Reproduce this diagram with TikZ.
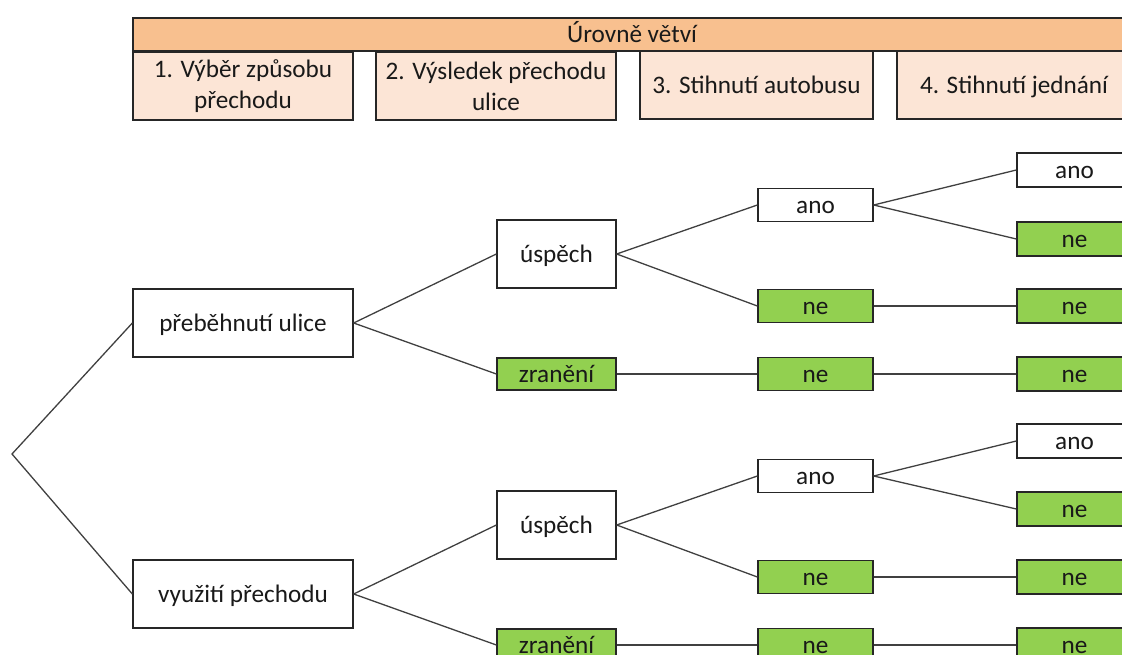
\documentclass[tikz,border=0pt]{standalone}
\usepackage{fontspec}
\setmainfont{Carlito}
\definecolor{hdrorange}{HTML}{F8C08F}
\definecolor{hdrpeach}{HTML}{FCE5D6}
\definecolor{leafgreen}{HTML}{92D050}
\definecolor{linegray}{HTML}{404040}
\tikzset{
  box/.style={draw=black!85, line width=1.3pt, inner sep=0pt, align=center,
    font=\fontsize{25.2}{31}\selectfont, text=black!90},
  fixbase/.style={text height=19pt, text depth=2pt},
  hdr/.style={box, fill=hdrpeach},
  top/.style={box, fill=hdrorange},
  white/.style={box, fixbase, fill=white},
  green/.style={box, fixbase, fill=leafgreen},
  lone/.style={box, minimum width=220pt, minimum height=68pt},
  ltwo/.style={minimum width=119pt},
  lthree/.style={minimum width=115pt, minimum height=33pt},
  lfour/.style={minimum width=115pt, minimum height=34pt},
  conn/.style={draw=linegray, line width=1.3pt}
}
\begin{document}
\begin{tikzpicture}[x=1pt,y=-1pt]
\useasboundingbox (0,0) rectangle (1122,655);
\clip (0,0) rectangle (1122,655);
% header
\node[top, fixbase, minimum width=998pt, minimum height=33pt] (title) at (632,34.5) {Úrovně větví};
\node[hdr, minimum width=220pt, minimum height=68pt] (h1) at (243,86) {1. Výběr způsobu\\přechodu};
\node[hdr, minimum width=240pt, minimum height=68pt] (h2) at (496,86) {2. Výsledek přechodu\\ulice};
\node[hdr, fixbase, minimum width=233pt, minimum height=68pt] (h3) at (756.5,85) {3. Stihnutí autobusu};
\node[hdr, fixbase, minimum width=234pt, minimum height=68pt] (h4) at (1014,85) {4. Stihnutí jednání};
% root
\coordinate (root) at (12,454);
% level 1
\node[white, lone] (a1) at (243,323) {přeběhnutí ulice};
\node[white, lone] (a2) at (243,594) {využití přechodu};
% level 2
\node[white, ltwo, minimum height=68pt] (b1) at (556.5,254) {úspěch};
\node[green, ltwo, minimum height=32pt] (b2) at (556.5,374) {zranění};
\node[white, ltwo, minimum height=68pt] (b3) at (556.5,525) {úspěch};
\node[green, ltwo, minimum height=32pt] (b4) at (556.5,645) {zranění};
% level 3
\node[white, lthree] (c1) at (815.5,205) {ano};
\node[green, lthree] (c2) at (815.5,306) {ne};
\node[green, lthree] (c3) at (815.5,374) {ne};
\node[white, lthree] (c4) at (815.5,476) {ano};
\node[green, lthree] (c5) at (815.5,577) {ne};
\node[green, lthree] (c6) at (815.5,645) {ne};
% level 4
\node[white, lfour] (d1) at (1074.5,170) {ano};
\node[green, lfour] (d2) at (1074.5,239) {ne};
\node[green, lfour] (d3) at (1074.5,306) {ne};
\node[green, lfour] (d4) at (1074.5,374) {ne};
\node[white, lfour] (d5) at (1074.5,441) {ano};
\node[green, lfour] (d6) at (1074.5,509) {ne};
\node[green, lfour] (d7) at (1074.5,577) {ne};
\node[green, lfour] (d8) at (1074.5,645) {ne};
% connectors
\draw[conn] (a1.west) -- (root) -- (a2.west);
\draw[conn] (a1.east) -- (b1.west);
\draw[conn] (a1.east) -- (b2.west);
\draw[conn] (a2.east) -- (b3.west);
\draw[conn] (a2.east) -- (b4.west);
\draw[conn] (b1.east) -- (c1.west);
\draw[conn] (b1.east) -- (c2.west);
\draw[conn] (b2.east) -- (c3.west);
\draw[conn] (b3.east) -- (c4.west);
\draw[conn] (b3.east) -- (c5.west);
\draw[conn] (b4.east) -- (c6.west);
\draw[conn] (c1.east) -- (d1.west);
\draw[conn] (c1.east) -- (d2.west);
\draw[conn] (c2.east) -- (d3.west);
\draw[conn] (c3.east) -- (d4.west);
\draw[conn] (c4.east) -- (d5.west);
\draw[conn] (c4.east) -- (d6.west);
\draw[conn] (c5.east) -- (d7.west);
\draw[conn] (c6.east) -- (d8.west);
\end{tikzpicture}
\end{document}
